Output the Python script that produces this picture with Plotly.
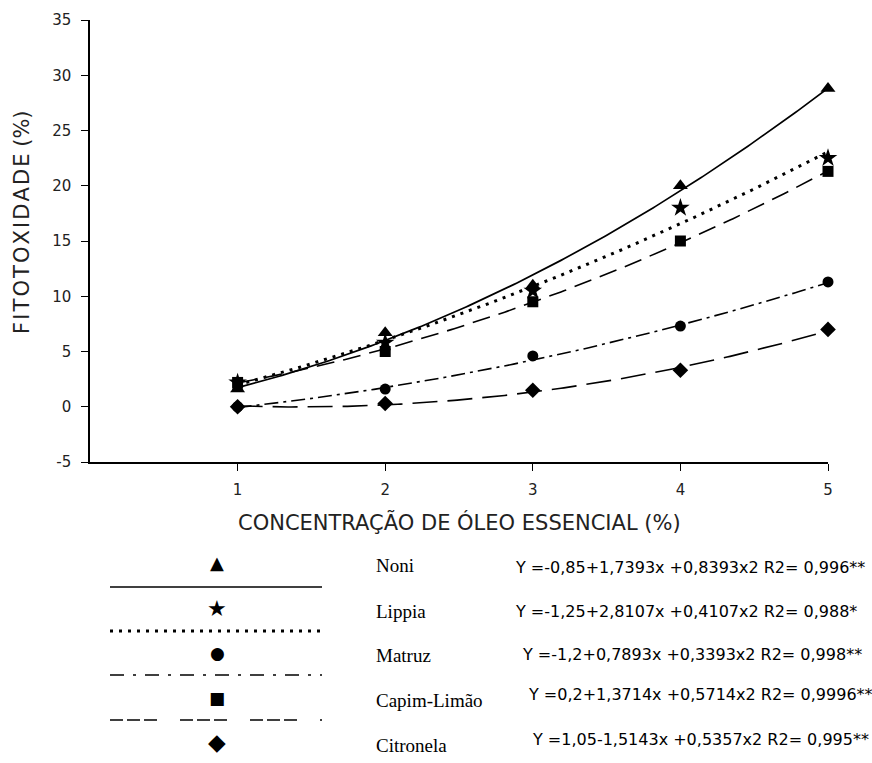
import numpy as np
import plotly.graph_objects as go

# ---------------- data ----------------
x_conc = [1, 2, 3, 4, 5]
species = ["Noni", "Lippia", "Matruz", "Capim-Limão", "Citronela"]
noni = [1.6, 6.7, 11.0, 20.0, 28.8]
lippia = [2.2, 5.8, 10.5, 18.0, 22.5]
matruz = [0.0, 1.6, 4.6, 7.3, 11.3]
capim = [2.2, 5.0, 9.5, 15.0, 21.3]
citronela = [0.0, 0.3, 1.5, 3.3, 7.0]
series_values = [noni, lippia, matruz, capim, citronela]

# regression coefficients (a, b, c) as printed: Y = a + b x + c x^2
coef_noni = [-0.85, 1.7393, 0.8393]
coef_lippia = [-1.25, 2.8107, 0.4107]
coef_matruz = [-1.2, 0.7893, 0.3393]
coef_capim = [0.2, 1.3714, 0.5714]
coef_citronela = [1.05, -1.5143, 0.5357]
coefs = [coef_noni, coef_lippia, coef_matruz, coef_capim, coef_citronela]

equations = [
    "Y =-0,85+1,7393x +0,8393x2 R2= 0,996**",
    "Y =-1,25+2,8107x +0,4107x2 R2= 0,988*",
    "Y =-1,2+0,7893x +0,3393x2 R2= 0,998**",
    "Y =0,2+1,3714x +0,5714x2 R2= 0,9996**",
    "Y =1,05-1,5143x +0,5357x2 R2= 0,995**",
]
y_ticks = [-5, 0, 5, 10, 15, 20, 25, 30, 35]
y_ticktext = ["-5", "0", "5", "10", "15", "20", "25", "30", "35"]

# ---------------- styles ----------------
symbols = ["triangle-up", "star", "circle", "square", "diamond"]
msizes = [13, 14, 11, 11, 12]
dashes = ["solid", "3px,6px", "14px,5px,3px,5px", "18px,9px", "25px,10px"]
lwidths = [1.7, 3, 1.6, 1.6, 1.6]
legend_glyphs = ["▲", "★", "●", "■", "◆"]

W, H = 872, 763
L, R, T, B = 90, 44, 20, 301
PW, PH = W - L - R, H - T - B


def px(xp):
    return (xp - L) / PW


def py(yp):
    return (H - B - yp) / PH


fig = go.Figure()

xs = np.linspace(1, 5, 200)
for name, cf, dsh, lw in zip(species, coefs, dashes, lwidths):
    ys = cf[0] + cf[1] * xs + cf[2] * xs ** 2
    fig.add_trace(go.Scatter(x=xs, y=ys, mode="lines", name=name,
                             line=dict(color="black", width=lw, dash=dsh),
                             showlegend=False, hoverinfo="skip", cliponaxis=False))

for name, vals, sym, ms in zip(species, series_values, symbols, msizes):
    fig.add_trace(go.Scatter(x=x_conc, y=vals, mode="markers", name=name,
                             marker=dict(symbol=sym, size=ms, color="black",
                                         line=dict(width=0)),
                             showlegend=False, cliponaxis=False))

axis_common = dict(showgrid=False, zeroline=False, showline=True, linecolor="black",
                   linewidth=1.5, ticks="outside", ticklen=7, tickcolor="black",
                   tickwidth=1.2, tickfont=dict(size=15, family="DejaVu Sans", color="#222"))

fig.update_layout(
    width=W, height=H,
    margin=dict(l=L, r=R, t=T, b=B),
    plot_bgcolor="white", paper_bgcolor="white",
    font=dict(family="DejaVu Sans", color="#222", size=15),
    xaxis=dict(range=[0, 5], tickvals=x_conc, ticktext=[str(v) for v in x_conc],
               ticklabelstandoff=6, **axis_common),
    yaxis=dict(range=[-5, 35], tickvals=y_ticks, ticktext=y_ticktext,
               ticklabelstandoff=7, **axis_common),
)

ann = []
hs = "\u200a"
ytitle = hs.join(list("FITOTOXIDADE")) + " (%)"
ann.append(dict(text=ytitle, x=px(22), y=py(222), xref="paper", yref="paper",
                xanchor="center", yanchor="middle", textangle=-90, showarrow=False,
                font=dict(size=21, family="DejaVu Sans", color="#222")))
ann.append(dict(text="CONCENTRAÇÃO DE ÓLEO ESSENCIAL (%)", x=px(459), y=py(522),
                xref="paper", yref="paper", xanchor="center", yanchor="middle",
                showarrow=False, font=dict(size=21, family="DejaVu Sans", color="#222")))

glyph_y = [562, 608, 653, 698, 742]
name_y = [565, 611, 655, 701, 745]
eq_y = [567, 611, 654, 694, 739]
line_y = [587, 631, 675, 720]
eq_x = [513, 513, 520, 526, 530]
glyph_sizes = [18, 22, 17, 17, 23]
for i in range(5):
    ann.append(dict(text=legend_glyphs[i], x=px(217), y=py(glyph_y[i]), xref="paper",
                    yref="paper", xanchor="center", yanchor="middle", showarrow=False,
                    font=dict(size=glyph_sizes[i], family="DejaVu Sans", color="black")))
    ann.append(dict(text=species[i], x=px(374), y=py(name_y[i]), xref="paper",
                    yref="paper", xanchor="left", yanchor="middle", showarrow=False,
                    font=dict(size=19, family="Liberation Serif", color="black")))
    ann.append(dict(text=equations[i], x=px(eq_x[i]), y=py(eq_y[i]), xref="paper",
                    yref="paper", xanchor="left", yanchor="middle", showarrow=False,
                    font=dict(size=16, family="DejaVu Sans", color="black")))

shapes = []
leg_dashes = ["solid", "3px,6px", "14px,9px,3px,9px", "13px,4px,13px,4px,13px,23px"]
leg_widths = [1.7, 3, 1.6, 1.6]
for i in range(4):
    shapes.append(dict(type="line", xref="paper", yref="paper",
                       x0=px(110), x1=px(322), y0=py(line_y[i]), y1=py(line_y[i]),
                       line=dict(color="black", width=leg_widths[i], dash=leg_dashes[i])))

fig.update_layout(annotations=ann, shapes=shapes)
fig.write_html("out.html")
